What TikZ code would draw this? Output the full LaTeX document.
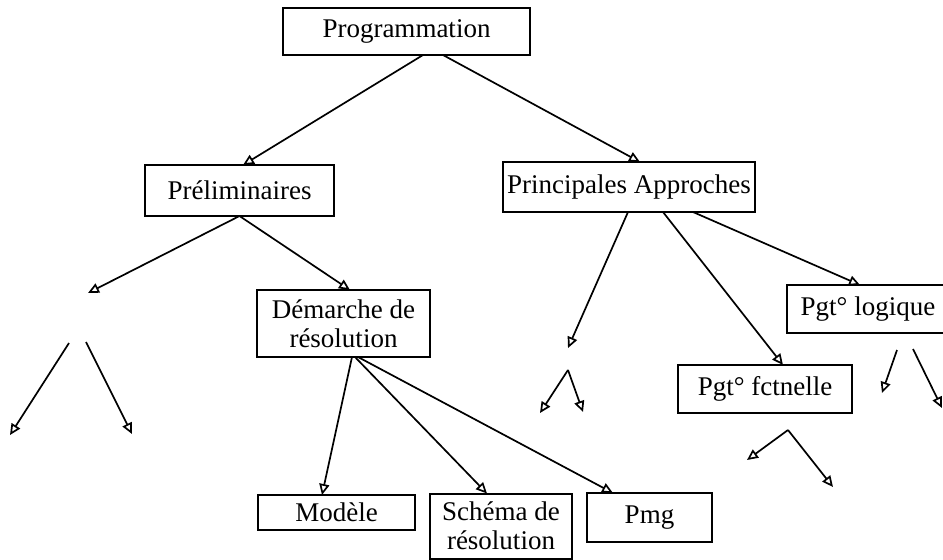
\documentclass[tikz,border=0pt]{standalone}
\usepackage{fontspec}
\setmainfont{Liberation Serif}
\usepackage{tikz}
\usetikzlibrary{arrows.meta}

\begin{document}
\begin{tikzpicture}[x=0.5pt,y=-0.5pt,
  box/.style={draw,line width=1pt,inner sep=0pt,outer sep=0pt,align=center,
    font=\fontsize{13.5}{14.5}\selectfont},
  arr/.style={line width=0.85pt,-{Triangle[open,length=5.5pt,width=5pt]}}]
% Frame
\useasboundingbox (0,0) rectangle (943,559);
\clip (0,0) rectangle (943,559);
% Boxes
\node[box,minimum width=123.5pt,minimum height=23.5pt] (prog) at (406.5,31.5) {Programmation};
\node[box,minimum width=94.5pt,minimum height=25.5pt] (prel) at (239.5,190.5) {Préliminaires};
\node[box,minimum width=126pt,minimum height=25pt] (princ) at (629,187) {Principales Approches};
\node[box,minimum width=86.5pt,minimum height=33.5pt] (dem) at (343.5,323.5) {Démarche de\\résolution};
\node[box,minimum width=78.5pt,minimum height=17.5pt] (mod) at (336.5,512.5) {Modèle};
\node[box,minimum width=71pt,minimum height=32.5pt] (schema) at (501,526) {Schéma de\\résolution};
\node[box,minimum width=62.5pt,minimum height=24.5pt] (pmg) at (649.5,517.5) {Pmg};
\node[box,minimum width=87pt,minimum height=24pt] (fct) at (765,389) {Pgt° fctnelle};
\node[box,minimum width=81pt,minimum height=24pt] (logi) at (868,309) {Pgt° logique};
% Loose ends
\coordinate (p1) at (88,293);
\coordinate (a1) at (69,343);  \coordinate (b1) at (10,435);
\coordinate (a2) at (86,342);  \coordinate (b2) at (132,434);
\coordinate (p2) at (568,348);
\coordinate (a3) at (568,370); \coordinate (b3) at (540,413); \coordinate (c3) at (583,412);
\coordinate (a4) at (788,430); \coordinate (b4) at (747,460); \coordinate (c4) at (833,487);
\coordinate (a5) at (897,350); \coordinate (b5) at (882,393);
\coordinate (a6) at (913,349); \coordinate (b6) at (942,408);
% Arrows from Programmation
\draw[arr] ([xshift=8.25pt]prog.south) -- ([xshift=1.75pt]prel.north);
\draw[arr] ([xshift=18.25pt]prog.south) -- ([xshift=5.5pt]princ.north);
% Arrows from Preliminaires
\draw[arr] (prel.south) -- (p1);
\draw[arr] (prel.south) -- ([xshift=3.25pt]dem.north);
\draw[arr] (a1) -- (b1);
\draw[arr] (a2) -- (b2);
% Arrows from Demarche
\draw[arr] ([xshift=4.25pt]dem.south) -- ([xshift=-7.25pt]mod.north);
\draw[arr] ([xshift=5.75pt]dem.south) -- ([xshift=-7pt]schema.north);
\draw[arr] ([xshift=7.25pt]dem.south) -- ([xshift=-18.25pt]pmg.north);
% Arrows from Principales Approches
\draw[arr] ([xshift=-0.5pt]princ.south) -- (p2);
\draw[arr] ([xshift=17pt]princ.south) -- ([xshift=9pt]fct.north);
\draw[arr] ([xshift=32pt]princ.south) -- ([xshift=-4pt]logi.north);
\draw[arr] (a3) -- (b3);
\draw[arr] (a3) -- (c3);
\draw[arr] (a4) -- (b4);
\draw[arr] (a4) -- (c4);
\draw[arr] (a5) -- (b5);
\draw[arr] (a6) -- (b6);
\end{tikzpicture}
\end{document}
